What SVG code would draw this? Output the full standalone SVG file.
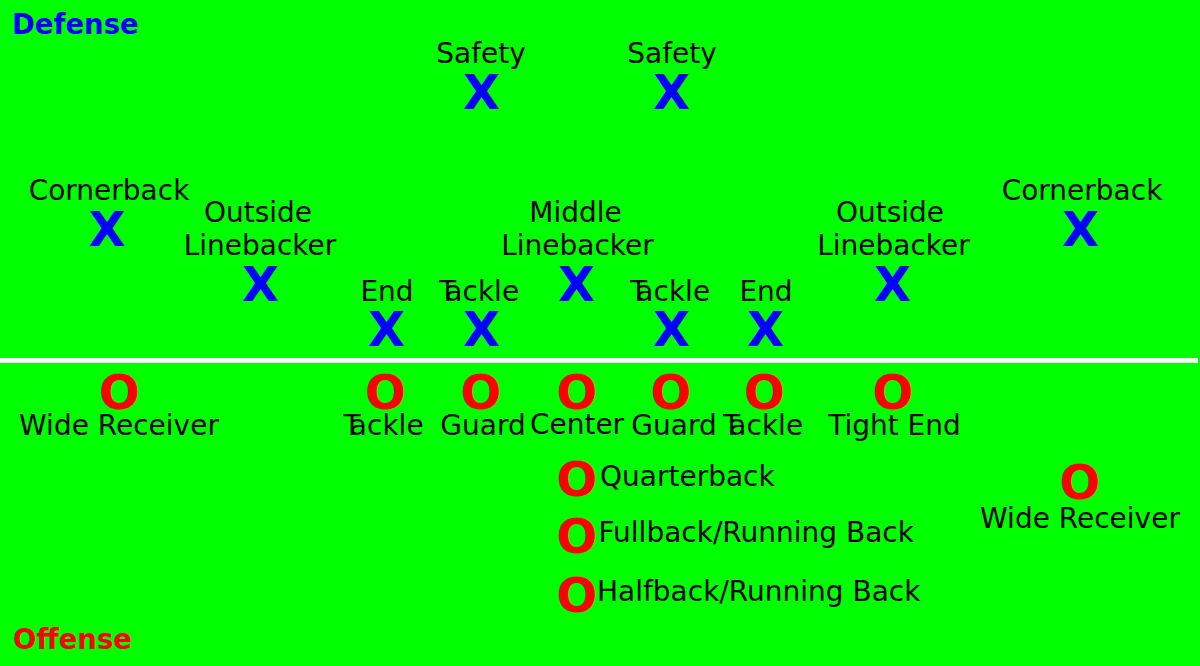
<svg xmlns="http://www.w3.org/2000/svg" width="1200" height="666" viewBox="0 0 1200 666">
<style>
.lbl{font-family:"DejaVu Sans",sans-serif;font-size:28px;fill:#000;text-anchor:middle}
.x{font-family:"DejaVu Sans",sans-serif;font-size:48px;font-weight:bold;fill:#0000ff;text-anchor:middle}
.o{font-family:"DejaVu Sans",sans-serif;font-size:48px;font-weight:bold;fill:#ff0000;text-anchor:middle}
.ttl{font-family:"DejaVu Sans",sans-serif;font-size:27.5px;font-weight:bold}
</style>
<rect x="0" y="0" width="1200" height="666" fill="#00ff00"/>
<g id="scrimmage"><rect x="0" y="358" width="1198" height="5" fill="#ffffff"/></g>
<text class="ttl" x="12" y="33.5" fill="#0000ff">Defense</text>
<text class="ttl" x="13" y="648.5" fill="#ff0000">Offense</text>
<g id="connectors"/>
<g id="def-safety-1"><text class="lbl" x="481" y="63">Safety</text><text class="x" x="481.5" y="109">X</text></g>
<g id="def-safety-2"><text class="lbl" x="672" y="63">Safety</text><text class="x" x="671.5" y="109">X</text></g>
<g id="def-cb-left"><text class="lbl" x="109" y="200">Cornerback</text><text class="x" x="107" y="246">X</text></g>
<g id="def-olb-left"><text class="lbl" x="258" y="222">Outside</text><text class="lbl" x="260" y="255">Linebacker</text><text class="x" x="260.5" y="301">X</text></g>
<g id="def-mlb"><text class="lbl" x="575.5" y="222">Middle</text><text class="lbl" x="577.5" y="255">Linebacker</text><text class="x" x="576.5" y="301">X</text></g>
<g id="def-olb-right"><text class="lbl" x="890" y="222">Outside</text><text class="lbl" x="893.5" y="255">Linebacker</text><text class="x" x="892.5" y="301">X</text></g>
<g id="def-cb-right"><text class="lbl" x="1082" y="200">Cornerback</text><text class="x" x="1080.5" y="246">X</text></g>
<g id="def-end-left"><text class="lbl" x="387" y="301">End</text><text class="x" x="386.5" y="346">X</text></g>
<g id="def-tackle-left"><text class="lbl" x="479" y="301">T<tspan dx="-6">ackle</tspan></text><text class="x" x="481.5" y="346">X</text></g>
<g id="def-tackle-right"><text class="lbl" x="670" y="301">T<tspan dx="-6">ackle</tspan></text><text class="x" x="671.5" y="346">X</text></g>
<g id="def-end-right"><text class="lbl" x="766" y="301">End</text><text class="x" x="765.5" y="346">X</text></g>
<g id="off-wr-left"><text class="o" x="119.5" y="409">O</text><text class="lbl" x="119" y="435">Wide Receiver</text></g>
<g id="off-tackle-left"><text class="o" x="385.5" y="409">O</text><text class="lbl" x="383.5" y="435">T<tspan dx="-6">ackle</tspan></text></g>
<g id="off-guard-left"><text class="o" x="481" y="409">O</text><text class="lbl" x="483" y="435">Guard</text></g>
<g id="off-center"><text class="o" x="577" y="409">O</text><text class="lbl" x="577" y="434">Center</text></g>
<g id="off-guard-right"><text class="o" x="671" y="409">O</text><text class="lbl" x="674" y="435">Guard</text></g>
<g id="off-tackle-right"><text class="o" x="764.5" y="409">O</text><text class="lbl" x="763" y="435">T<tspan dx="-6">ackle</tspan></text></g>
<g id="off-te"><text class="o" x="893" y="409">O</text><text class="lbl" x="894.5" y="435">Tight End</text></g>
<g id="off-qb"><text class="o" x="577" y="496">O</text><text class="lbl" x="600" y="486" style="text-anchor:start">Quarterback</text></g>
<g id="off-fb"><text class="o" x="577" y="553">O</text><text class="lbl" x="598.5" y="542" style="text-anchor:start">Fullback/Running Back</text></g>
<g id="off-hb"><text class="o" x="577" y="612">O</text><text class="lbl" x="597" y="601" style="text-anchor:start">Halfback/Running Back</text></g>
<g id="off-wr-right"><text class="o" x="1080" y="499">O</text><text class="lbl" x="1080" y="528">Wide Receiver</text></g>
</svg>
